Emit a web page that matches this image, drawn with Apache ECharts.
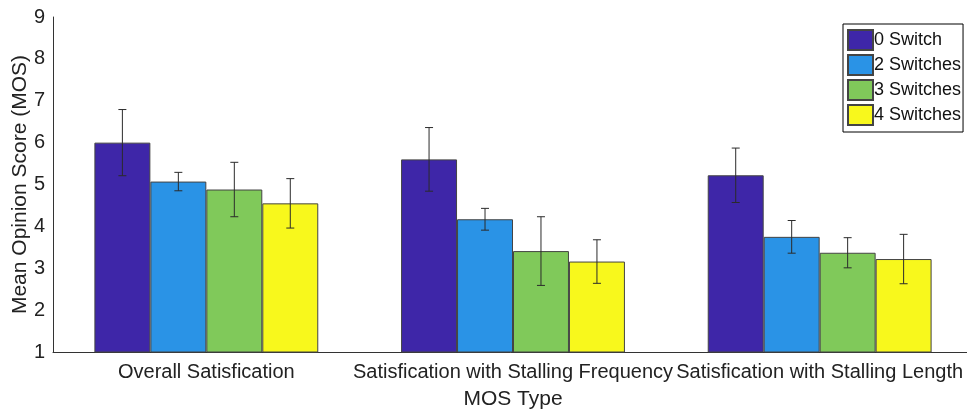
<!DOCTYPE html>
<html>
<head>
    <meta charset="utf-8" />
    <title>MOS</title>
    <script src="https://cdn.jsdelivr.net/npm/echarts@6/dist/echarts.min.js"></script>
    <style>
        html, body { margin: 0; padding: 0; background: #fff; }
    </style>
</head>
<body>
    <div id="main" style="width:967px;height:416px"></div>
    <script type="text/javascript">

        var categories = ['Overall Satisfication', 'Satisfication with Stalling Frequency', 'Satisfication with Stalling Length'];
        var seriesNames = ['0 Switch', '2 Switches', '3 Switches', '4 Switches'];
        var colorList = ['#3e26a8', '#2a93e6', '#80c95a', '#f8f81c'];
        // mean per series, one value per category
        var means = [
            [6.00, 5.60, 5.22],
            [5.07, 4.17, 3.75],
            [4.88, 3.41, 3.37],
            [4.55, 3.16, 3.22]
        ];
        // half length of the error bar
        var errs = [
            [0.79, 0.76, 0.65],
            [0.22, 0.26, 0.39],
            [0.65, 0.82, 0.36],
            [0.59, 0.52, 0.59]
        ];
        var yTicks = [1, 9, 1];

        var gapFrac = 0.27;
        var chartDom = document.getElementById('main');
        var myChart = echarts.init(chartDom);
        var option;

        function errorItem(k) {
            return function (params, api) {
                var cat = api.value(0);
                var hi = api.coord([cat, api.value(2)]);
                var lo = api.coord([cat, api.value(1)]);
                var bw = api.size([1, 0])[0] * (1 - gapFrac) / 4;
                var x = hi[0] + (k - 1.5) * bw;
                var cap = 4;
                var st = { stroke: '#2b2b2b', lineWidth: 1 };
                return {
                    type: 'group',
                    children: [
                        { type: 'line', shape: { x1: x, y1: hi[1], x2: x, y2: lo[1] }, style: st },
                        { type: 'line', shape: { x1: x - cap, y1: hi[1], x2: x + cap, y2: hi[1] }, style: st },
                        { type: 'line', shape: { x1: x - cap, y1: lo[1], x2: x + cap, y2: lo[1] }, style: st }
                    ]
                };
            };
        }

        var series = [];
        seriesNames.forEach(function (name, k) {
            series.push({
                name: name,
                type: 'bar',
                barGap: 0,
                barCategoryGap: (gapFrac * 100) + '%',
                itemStyle: { color: colorList[k], borderColor: '#444', borderWidth: 1 },
                emphasis: { disabled: true },
                data: means[k]
            });
        });
        seriesNames.forEach(function (name, k) {
            series.push({
                type: 'custom',
                renderItem: errorItem(k),
                encode: { x: 0, y: [1, 2] },
                z: 5,
                data: means[k].map(function (m, i) {
                    return [i, m - errs[k][i], m + errs[k][i]];
                })
            });
        });

        option = {
            animation: false,
            textStyle: { fontFamily: 'Arial' },
            grid: { left: 53, top: 17, bottom: 64, width: 920, outerBoundsMode: 'none', containLabel: false },
            legend: {
                data: seriesNames,
                orient: 'vertical',
                left: 843,
                top: 24,
                padding: [5, 2, 6, 4],
                itemGap: 3,
                itemWidth: 25,
                itemHeight: 20,
                borderColor: '#000',
                borderWidth: 1,
                icon: 'rect',
                textStyle: { fontSize: 18, color: '#111', padding: [0, 0, 0, -4] }
            },
            xAxis: {
                type: 'category',
                data: categories,
                name: 'MOS Type',
                nameLocation: 'middle',
                nameGap: 37,
                nameMoveOverlap: false,
                nameTextStyle: { fontSize: 21, color: '#222' },
                axisLine: { lineStyle: { color: '#333' } },
                axisTick: { show: false },
                axisLabel: { interval: 0, fontSize: 20, color: '#222', margin: 10 }
            },
            yAxis: {
                type: 'value',
                min: yTicks[0],
                max: yTicks[1],
                interval: yTicks[2],
                name: 'Mean Opinion Score (MOS)',
                nameLocation: 'middle',
                nameGap: 22,
                nameMoveOverlap: false,
                nameTextStyle: { fontSize: 21, color: '#222' },
                axisLine: { show: true, lineStyle: { color: '#333' } },
                axisTick: { show: false },
                splitLine: { show: false },
                axisLabel: { fontSize: 20, color: '#222', margin: 8 }
            },
            series: series
        };

        option && myChart.setOption(option);

    </script>
</body>
</html>
